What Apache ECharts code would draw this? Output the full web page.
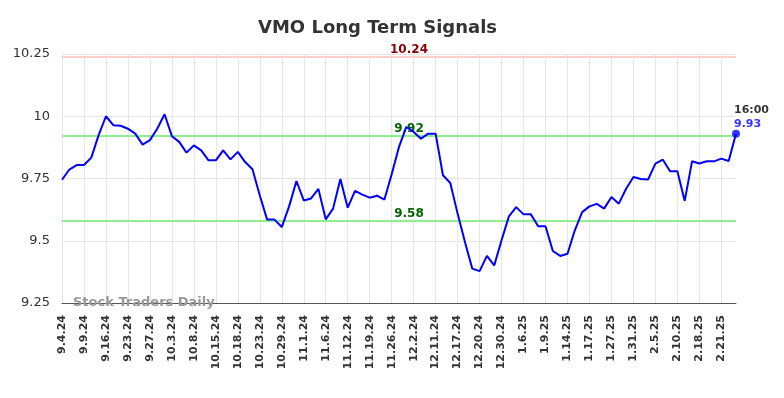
<!DOCTYPE html>
<html>
<head>
<meta charset="utf-8">
<script src="https://cdn.jsdelivr.net/npm/echarts@6/dist/echarts.min.js"></script>
<style>
  html, body { margin: 0; padding: 0; background: #fff; }
  #chart { width: 784px; height: 398px; }
</style>
</head>
<body>
<div id="chart"></div>
<script>
var dates = [
  "9.4.24", "9.5.24", "9.6.24", "9.9.24", "9.11.24", "9.13.24", "9.16.24", "9.18.24", "9.20.24",
  "9.23.24", "9.24.24", "9.26.24", "9.27.24", "9.30.24", "10.1.24", "10.3.24", "10.4.24", "10.7.24",
  "10.8.24", "10.10.24", "10.11.24", "10.15.24", "10.16.24", "10.17.24", "10.18.24", "10.21.24", "10.22.24",
  "10.23.24", "10.24.24", "10.25.24", "10.29.24", "10.30.24", "10.31.24", "11.1.24", "11.4.24", "11.5.24",
  "11.6.24", "11.7.24", "11.8.24", "11.12.24", "11.14.24", "11.15.24", "11.19.24", "11.21.24", "11.22.24",
  "11.26.24", "11.27.24", "11.29.24", "12.2.24", "12.4.24", "12.6.24", "12.11.24", "12.13.24", "12.16.24",
  "12.17.24", "12.18.24", "12.19.24", "12.20.24", "12.23.24", "12.26.24", "12.30.24", "12.31.24", "1.3.25",
  "1.6.25", "1.7.25", "1.8.25", "1.9.25", "1.10.25", "1.13.25", "1.14.25", "1.15.25", "1.16.25",
  "1.17.25", "1.21.25", "1.23.25", "1.27.25", "1.28.25", "1.30.25", "1.31.25", "2.3.25", "2.4.25",
  "2.5.25", "2.6.25", "2.7.25", "2.10.25", "2.12.25", "2.14.25", "2.18.25", "2.19.25", "2.20.25",
  "2.21.25", "2.24.25", "2.25.25"
];
var prices = [
  9.745, 9.786, 9.804, 9.804, 9.834, 9.924, 10.0, 9.964, 9.962,
  9.95, 9.93, 9.886, 9.904, 9.95, 10.008, 9.92, 9.897, 9.854,
  9.883, 9.863, 9.823, 9.823, 9.863, 9.827, 9.857, 9.816, 9.787,
  9.682, 9.585, 9.585, 9.555, 9.638, 9.74, 9.662, 9.67, 9.708,
  9.586, 9.629, 9.748, 9.633, 9.70, 9.685, 9.673, 9.681, 9.665,
  9.767, 9.877, 9.957, 9.937, 9.91, 9.93, 9.93, 9.763, 9.732,
  9.609, 9.495, 9.388, 9.378, 9.439, 9.401, 9.502, 9.598, 9.635,
  9.606, 9.606, 9.558, 9.558, 9.459, 9.439, 9.448, 9.542, 9.615,
  9.638, 9.648, 9.629, 9.676, 9.649, 9.709, 9.756, 9.748, 9.746,
  9.81, 9.826, 9.779, 9.779, 9.66, 9.819, 9.81, 9.819, 9.819,
  9.83, 9.82, 9.93
];
var resistance = 10.24;
var signalLevels = [9.92, 9.58];
var yTicks = [9.25, 9.5, 9.75, 10, 10.25];
var lastTime = "16:00";

var chart = echarts.init(document.getElementById("chart"));
var lastIdx = prices.length - 1;

function levelLabel(text, color) {
  return {
    position: "insideMiddleTop",
    offset: [10, 4],
    formatter: text,
    color: color,
    fontFamily: "DejaVu Sans",
    fontSize: 12,
    fontWeight: "bold"
  };
}

var option = {
  animation: false,
  title: {
    text: "VMO Long Term Signals",
    left: 253,
    top: 14,
    textStyle: { fontFamily: "DejaVu Sans", fontSize: 18, fontWeight: "bold", color: "#333" }
  },
  grid: { left: 62, right: 48, top: 54, bottom: 95 },
  graphic: [{
    type: "text",
    left: 73,
    top: 296,
    z: 100,
    style: { text: "Stock Traders Daily", fontFamily: "DejaVu Sans", fontSize: 13, fontWeight: "bold", fill: "#999" }
  }],
  xAxis: {
    type: "category",
    data: dates,
    boundaryGap: false,
    axisLine: { lineStyle: { color: "#555", width: 1 } },
    axisTick: { show: false },
    axisLabel: {
      interval: 2,
      rotate: 90,
      margin: 12,
      fontFamily: "DejaVu Sans",
      fontSize: 11,
      fontWeight: "bold",
      color: "#333"
    },
    splitLine: { show: true, interval: 2, lineStyle: { color: "#e6e6e6", width: 1 } }
  },
  yAxis: {
    type: "value",
    min: yTicks[0],
    max: yTicks[yTicks.length - 1],
    interval: 0.25,
    axisLine: { show: false },
    axisTick: { show: false },
    axisLabel: {
      margin: 12,
      fontFamily: "DejaVu Sans",
      fontSize: 13,
      color: "#333",
      formatter: function (v) { return String(+v.toFixed(2)); }
    },
    splitLine: { lineStyle: { color: "#e6e6e6", width: 1 } }
  },
  series: [
    {
      type: "line",
      data: prices,
      showSymbol: false,
      lineStyle: { color: "#0000ff", width: 2 },
      itemStyle: { color: "#0000ff" },
      z: 5,
      markLine: {
        silent: true,
        symbol: "none",
        data: [
          { yAxis: resistance, lineStyle: { color: "#ffcccc", width: 2, type: "solid" }, label: levelLabel(String(resistance), "#8b0000") },
          { yAxis: signalLevels[0], lineStyle: { color: "#90ee90", width: 2, type: "solid" }, label: levelLabel(String(signalLevels[0]), "#006400") },
          { yAxis: signalLevels[1], lineStyle: { color: "#90ee90", width: 2, type: "solid" }, label: levelLabel(String(signalLevels[1]), "#006400") }
        ]
      }
    },
    {
      type: "scatter",
      data: [[dates[lastIdx], prices[lastIdx]]],
      symbolSize: 8,
      itemStyle: { color: "#0000ff" },
      z: 6,
      label: {
        show: true,
        position: "top",
        align: "left",
        offset: [-2, 6],
        formatter: function () { return "{t|" + lastTime + "}\n{v|" + prices[lastIdx].toFixed(2) + "}"; },
        rich: {
          t: { fontFamily: "DejaVu Sans", fontSize: 11, fontWeight: "bold", color: "#000", lineHeight: 14 },
          v: { fontFamily: "DejaVu Sans", fontSize: 11, fontWeight: "bold", color: "#0000ff", lineHeight: 14 }
        }
      }
    }
  ]
};
chart.setOption(option);
</script>
</body>
</html>
